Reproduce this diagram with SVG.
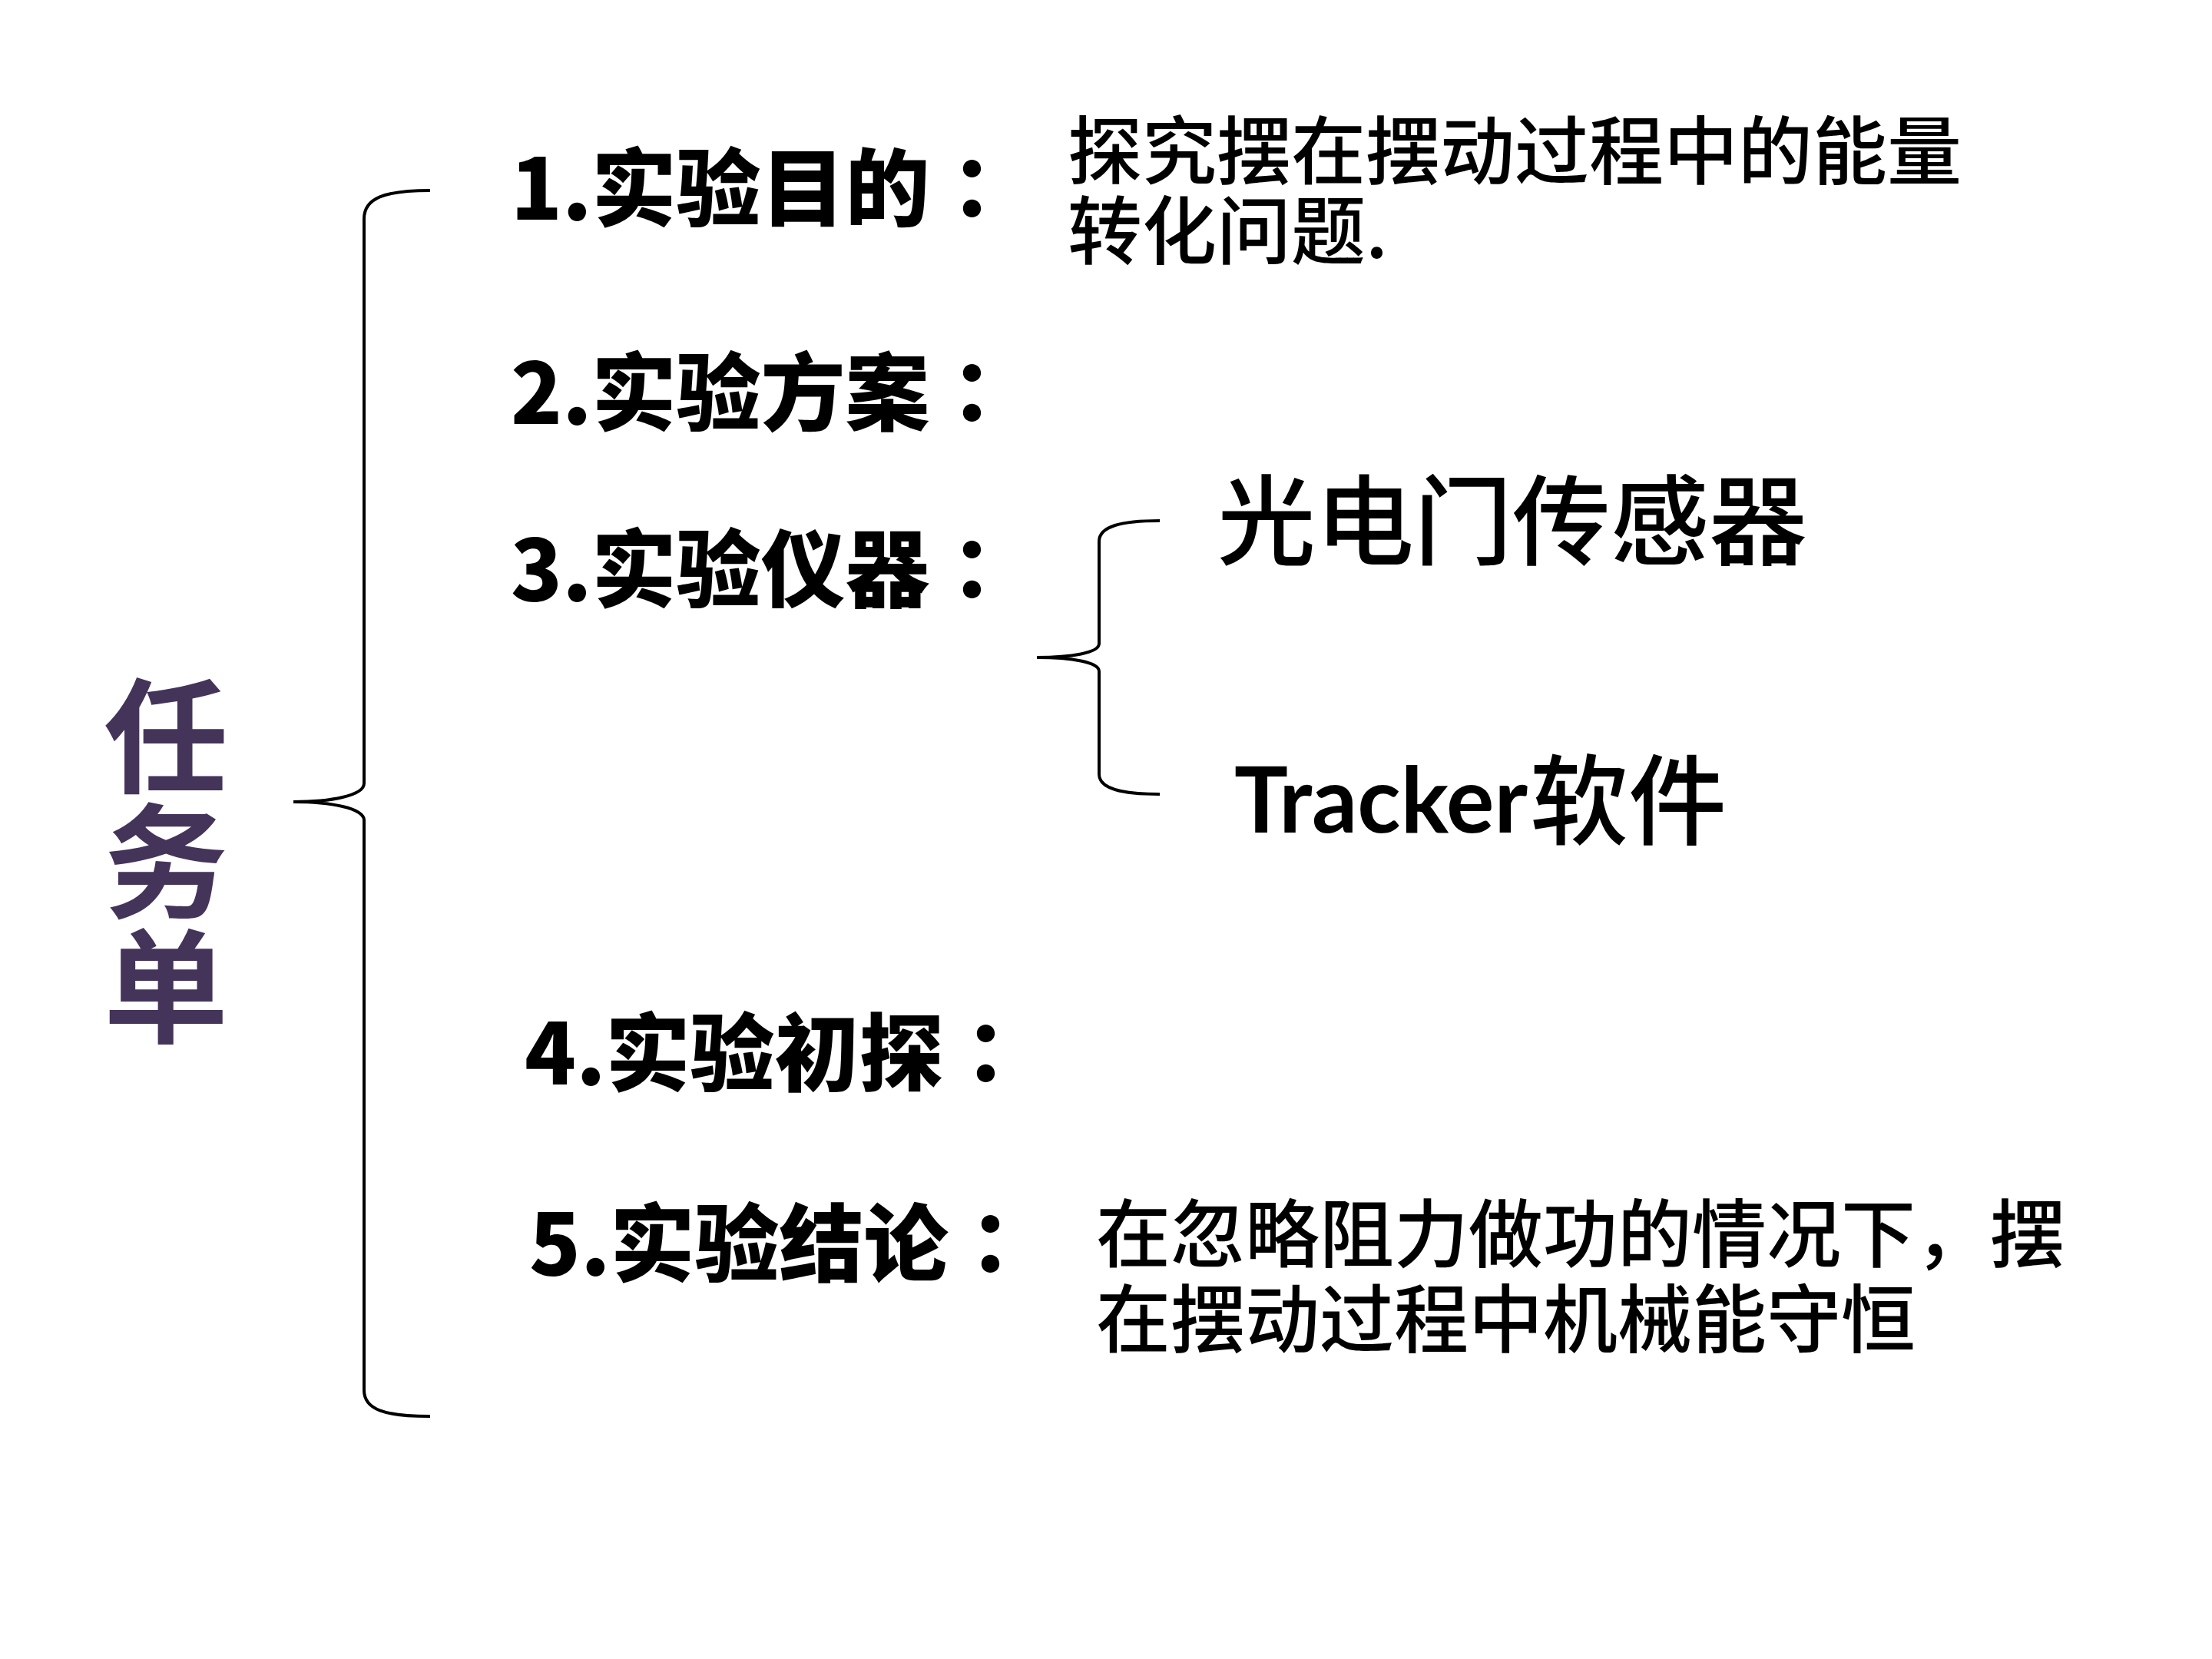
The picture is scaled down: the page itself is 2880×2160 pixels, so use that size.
<svg xmlns="http://www.w3.org/2000/svg" width="2880" height="2160" viewBox="0 0 2880 2160">
<style>
.lbl{font-family:"Noto Sans CJK SC","Liberation Sans",sans-serif;font-weight:900;font-size:110px;fill:#000}
.col{font-family:"Noto Sans CJK TC","Noto Sans CJK JP",sans-serif}
.txt{font-family:"Noto Sans CJK SC","Liberation Sans",sans-serif;font-weight:500;font-size:97px;fill:#000}
.big{font-family:"Noto Sans CJK SC","Liberation Sans",sans-serif;font-weight:500;font-size:128px;fill:#000}
.title{font-family:"Noto Sans CJK SC","Liberation Sans",sans-serif;font-weight:700;font-size:162px;fill:#44345A}
.brace{fill:none;stroke:#000;stroke-width:4}
</style>
<rect width="2880" height="2160" fill="#fff"/>
<g id="title">
<text class="title" x="216" y="1020" text-anchor="middle">任</text>
<text class="title" x="216" y="1183" text-anchor="middle">务</text>
<text class="title" x="216" y="1346" text-anchor="middle">单</text>
</g>
<g id="connectors">
<path class="brace" d="M560,248 C500,248 474,258 474,285 L474,1020 C474,1036 430,1044 382,1044 C430,1044 474,1052 474,1068 L474,1810 C474,1835 500,1844 560,1844"/>
<path class="brace" d="M1510,678 C1460,678 1431,685 1431,705 L1431,838 C1431,850 1395,856 1350,856 C1395,856 1431,862 1431,874 L1431,1008 C1431,1027 1460,1034 1510,1034"/>
</g>
<g id="item1">
<text class="lbl" x="665" y="286">1.实验目的<tspan class="col">：</tspan></text>
<text class="txt" x="1390" y="232">探究摆在摆动过程中的能量</text>
<text class="txt" x="1390" y="336">转化问题.</text>
</g>
<g id="item2">
<text class="lbl" x="665" y="552">2.实验方案<tspan class="col">：</tspan></text>
</g>
<g id="item3">
<text class="lbl" x="665" y="782">3.实验仪器<tspan class="col">：</tspan></text>
</g>
<g id="sub1">
<text class="big" x="1585" y="726">光电门传感器</text>
</g>
<g id="sub2">
<text x="1607" y="1084" textLength="382" lengthAdjust="spacingAndGlyphs" style="font-family:Lato,'Open Sans',sans-serif;font-weight:700;font-size:118px">Tracker</text>
<text class="big" x="1992" y="1090">软件</text>
</g>
<g id="item4">
<text class="lbl" x="683" y="1412">4.实验初探<tspan class="col">：</tspan></text>
</g>
<g id="item5">
<text class="lbl" x="689" y="1660">5.实验结论<tspan class="col">：</tspan></text>
<text class="txt" x="1427" y="1642">在忽略阻力做功的情况下，摆</text>
<text class="txt" x="1427" y="1753">在摆动过程中机械能守恒</text>
</g>
</svg>
